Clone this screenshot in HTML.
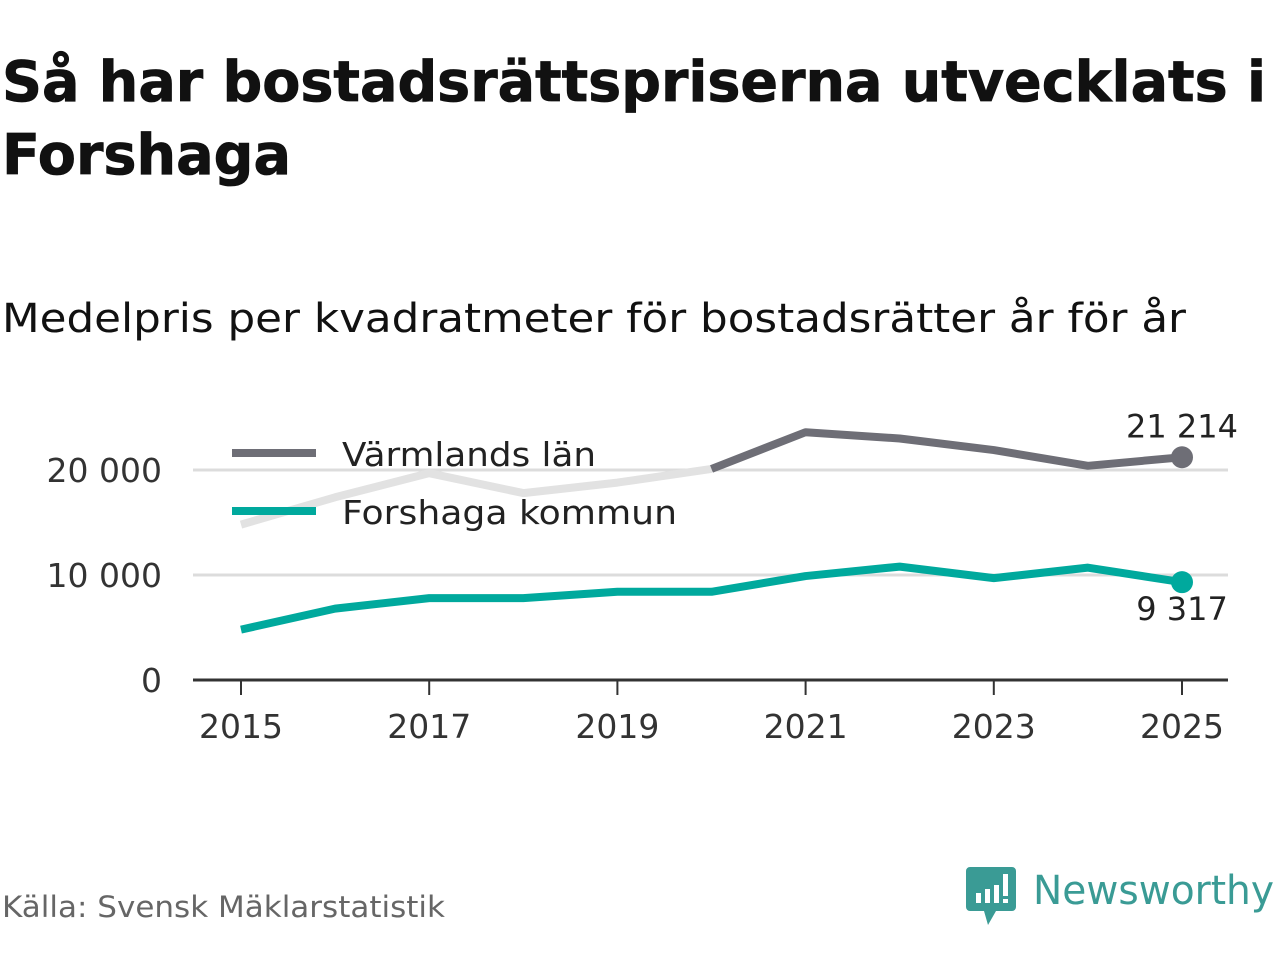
<!DOCTYPE html>
<html><head><meta charset="utf-8"><style>
body{margin:0;background:#fff;width:1280px;height:960px;overflow:hidden}
svg text{font-family:"DejaVu Sans","Liberation Sans",sans-serif}
</style></head><body>
<svg id="c" width="1280" height="960" xmlns="http://www.w3.org/2000/svg">
<text x="2" y="101" font-size="56" font-weight="bold" fill="#111" stroke="#111" stroke-width="0.8" textLength="1264" lengthAdjust="spacingAndGlyphs">Så har bostadsrättspriserna utvecklats i</text>
<text x="2" y="174" font-size="56" font-weight="bold" fill="#111" stroke="#111" stroke-width="0.8" textLength="289" lengthAdjust="spacingAndGlyphs">Forshaga</text>
<text x="2" y="332" font-size="40" fill="#111" textLength="1184" lengthAdjust="spacingAndGlyphs">Medelpris per kvadratmeter för bostadsrätter år för år</text>
<g id="grid"></g><g id="axes"></g><g id="lines"></g>
<g>
<line x1="232" y1="453" x2="316" y2="453" stroke="#6e6e76" stroke-width="8"/>
<text x="342" y="466" font-size="33" fill="#222" textLength="254" lengthAdjust="spacingAndGlyphs">Värmlands län</text>
<line x1="232" y1="511" x2="316" y2="511" stroke="#00a99d" stroke-width="8"/>
<text x="342" y="524" font-size="33" fill="#222" textLength="335" lengthAdjust="spacingAndGlyphs">Forshaga kommun</text>
</g>
<text x="2" y="917" font-size="29" fill="#666" textLength="443" lengthAdjust="spacingAndGlyphs">Källa: Svensk Mäklarstatistik</text>
<g>
<path d="M970 867 h42 a4 4 0 0 1 4 4 v36 a4 4 0 0 1 -4 4 h-16 l-8 14 l-4 -14 h-14 a4 4 0 0 1 -4 -4 v-36 a4 4 0 0 1 4 -4z" fill="#3a9b95"/>
<rect x="976" y="893" width="5" height="10" fill="#fff"/><rect x="985" y="889" width="5" height="14" fill="#fff"/><rect x="994" y="885" width="5" height="18" fill="#fff"/><rect x="1003" y="874" width="5" height="22" fill="#fff"/><rect x="1003" y="899" width="5" height="4" fill="#fff"/>
<text x="1033" y="904" font-size="40" fill="#3a9b95" textLength="241" lengthAdjust="spacingAndGlyphs">Newsworthy</text>
</g>
</svg>
<script>
const years=[2015,2016,2017,2018,2019,2020,2021,2022,2023,2024,2025];
const varmland=[14800,17400,19700,17800,18800,20100,23600,23000,21900,20400,21214];
const forshaga=[4800,6800,7800,7800,8400,8400,9900,10800,9700,10700,9317];
const yTicks=[0,10000,20000];
const yTickLabels=["0","10 000","20 000"];
const xTicks=[2015,2017,2019,2021,2023,2025];
const NS="http://www.w3.org/2000/svg";
const X=v=>241+(v-2015)*(1182-241)/10;
const Y=v=>680-v*(105/10000);
function mk(t,a,p){const e=document.createElementNS(NS,t);for(const k in a)e.setAttribute(k,a[k]);p.appendChild(e);return e;}
const g=document.getElementById('grid'),ax=document.getElementById('axes'),L=document.getElementById('lines');
yTicks.forEach((v,i)=>{
 if(v>0){const l=mk('line',{x1:193,x2:1228,y1:Y(v),y2:Y(v),stroke:'#dcdcdc','stroke-width':3},g);
 
 }
 const t=mk('text',{x:162,y:Y(v)+12,'font-size':33,fill:'#333','text-anchor':'end'},ax);t.textContent=yTickLabels[i];
 
 
});
const base=mk('line',{x1:193,x2:1228,y1:680,y2:680,stroke:'#333','stroke-width':3},ax);


xTicks.forEach(v=>{
 const tk=mk('line',{x1:X(v),x2:X(v),y1:680,y2:695,stroke:'#333','stroke-width':2},ax);
 
 
 const t=mk('text',{x:X(v),y:738,'font-size':33,fill:'#333','text-anchor':'middle'},ax);t.textContent=v;
 
 
});
function pts(arr,a,b){return arr.slice(a,b).map((v,i)=>X(years[a+i])+','+Y(v)).join(' ');}
const p1=mk('polyline',{points:pts(varmland,0,6),fill:'none',stroke:'#e2e2e2','stroke-width':8,'stroke-linejoin':'round'},L);


const p2=mk('polyline',{points:pts(varmland,5,11),fill:'none',stroke:'#6e6e76','stroke-width':8,'stroke-linejoin':'round'},L);


const p3=mk('polyline',{points:pts(forshaga,0,11),fill:'none',stroke:'#00a99d','stroke-width':8,'stroke-linejoin':'round'},L);


const n=years.length-1;
const d1=mk('circle',{cx:X(years[n]),cy:Y(varmland[n]),r:11,fill:'#6e6e76'},L);


const d2=mk('circle',{cx:X(years[n]),cy:Y(forshaga[n]),r:11,fill:'#00a99d'},L);


const fmt=v=>Math.round(v).toString().replace(/\B(?=(\d{3})+(?!\d))/g,' ');
const l1=mk('text',{x:X(years[n]),y:Y(varmland[n])-20,'font-size':32,fill:'#222','text-anchor':'middle'},L);l1.textContent=fmt(varmland[n]);


const l2=mk('text',{x:X(years[n]),y:Y(forshaga[n])+38,'font-size':32,fill:'#222','text-anchor':'middle'},L);l2.textContent=fmt(forshaga[n]);


</script>
</body></html>
